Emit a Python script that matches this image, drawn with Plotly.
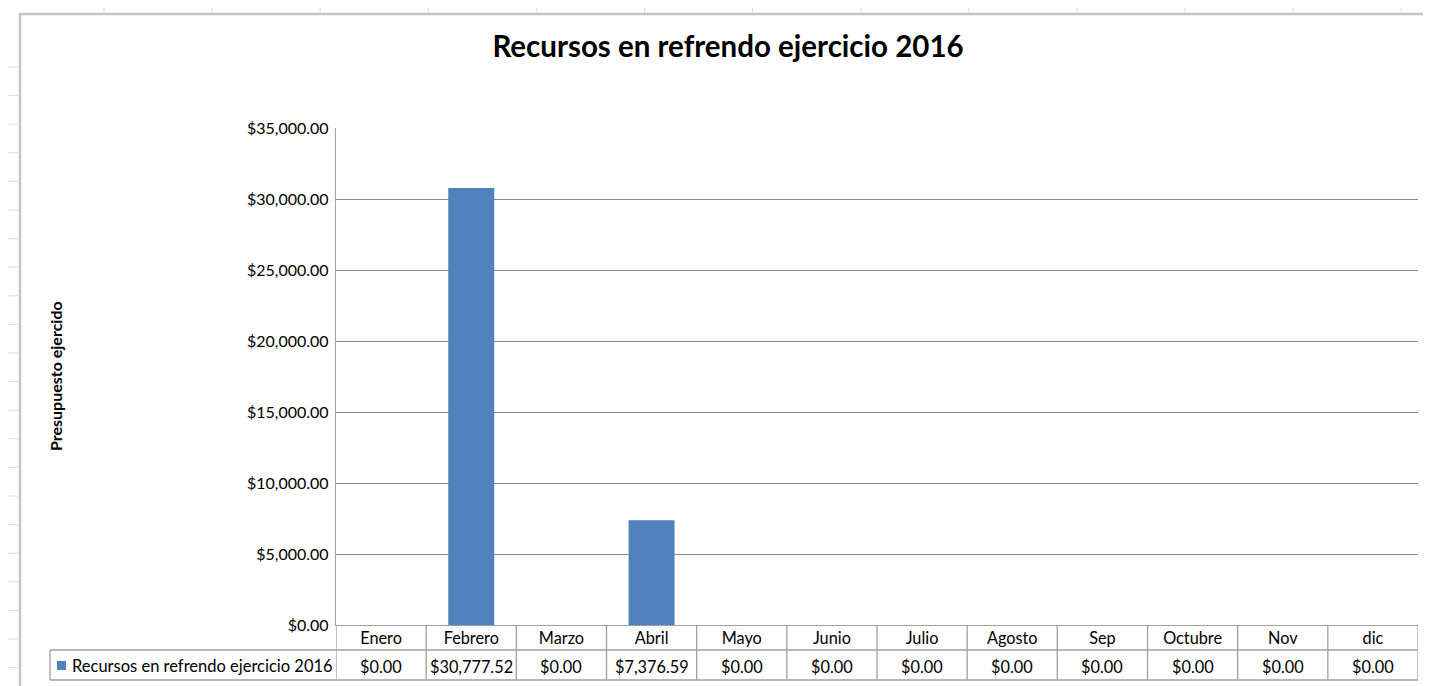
import plotly.graph_objects as go

# ---------------- data ----------------
title_text = "Recursos en refrendo ejercicio 2016"
series_name = "Recursos en refrendo ejercicio 2016"
y_title = "Presupuesto ejercido"
months = ["Enero", "Febrero", "Marzo", "Abril", "Mayo", "Junio",
          "Julio", "Agosto", "Sep", "Octubre", "Nov", "dic"]
values = [0.00, 30777.52, 0.00, 7376.59, 0.00, 0.00,
          0.00, 0.00, 0.00, 0.00, 0.00, 0.00]
y_ticks = [0, 5000, 10000, 15000, 20000, 25000, 30000, 35000]

# ---------------- layout constants ----------------
OFF = 8                      # page body margin
W, H = 1431 - OFF, 686 - OFF
# plot area in reference (window) pixels
PL, PR, PT, PB = 336, 1418, 128, 625
L, R, T, B = PL - OFF, W - (PR - OFF), PT - OFF, H - (PB - OFF)
plot_w = PR - PL
plot_h = PB - PT
FONT = "Lato, 'Open Sans', sans-serif"
GRID = "#8a8a8a"
TABLE = "#a0a0a0"
BAR = "#4F81BD"

def py(pix):  # window pixel y -> paper y
    return (PB - pix) / plot_h

def px(pix):  # window pixel x -> paper x
    return (pix - PL) / plot_w

hdr_bottom = py(650)
row_bottom = py(680)
legend_left = px(50)

fig = go.Figure()
fig.add_trace(go.Bar(x=months, y=values, marker=dict(color=BAR, line=dict(width=0)),
                     width=0.51, name=series_name, showlegend=False,
                     hoverinfo="x+y"))

shapes = []
annotations = []

# vertical table lines at category boundaries
for i in range(len(months) + 1):
    shapes.append(dict(type="line", xref="x", yref="paper",
                       x0=i - 0.5, x1=i - 0.5, y0=0, y1=row_bottom,
                       line=dict(color=TABLE, width=1.3)))
# horizontal table lines
for yy in (hdr_bottom, row_bottom):
    shapes.append(dict(type="line", xref="paper", yref="paper", x0=legend_left, x1=1,
                       y0=yy, y1=yy, line=dict(color=TABLE, width=1.3)))
shapes.append(dict(type="line", xref="paper", yref="paper", x0=legend_left, x1=legend_left,
                   y0=hdr_bottom, y1=row_bottom, line=dict(color=TABLE, width=1.3)))

# legend key square
shapes.append(dict(type="rect", xref="paper", yref="paper",
                   x0=px(57), x1=px(66), y0=py(670), y1=py(661),
                   fillcolor=BAR, line=dict(width=0)))

# chart frame (Excel chart border)
shapes.append(dict(type="rect", xref="paper", yref="paper",
                   x0=px(20), x1=px(1428), y0=py(14), y1=py(705),
                   line=dict(color="#c4c4c4", width=2.5), fillcolor="rgba(0,0,0,0)",
                   layer="below"))
# faint spreadsheet grid outside the frame
for k in range(13):
    xx = 104 + 108.1 * k
    shapes.append(dict(type="line", xref="paper", yref="paper",
                       x0=px(xx), x1=px(xx), y0=py(0), y1=py(12),
                       line=dict(color="#dcdcdc", width=1), layer="below"))
for k in range(22):
    yy = 67 + 28.6 * k
    shapes.append(dict(type="line", xref="paper", yref="paper",
                       x0=px(0), x1=px(18), y0=py(yy), y1=py(yy),
                       line=dict(color="#dcdcdc", width=1), layer="below"))

annotations.append(dict(xref="paper", yref="paper", x=px(70), y=py(666),
                        text=series_name, showarrow=False, xanchor="left", yanchor="middle",
                        font=dict(family=FONT, size=16.5, color="#000000")))

for m, v in zip(months, values):
    annotations.append(dict(xref="x", yref="paper", x=m, y=py(666),
                            text="${:,.2f}".format(v), showarrow=False,
                            xanchor="center", yanchor="middle",
                            font=dict(family=FONT, size=16.3, color="#000000")))

annotations.append(dict(xref="paper", yref="paper", x=px(55), y=py(376),
                        text="<b>" + y_title + "</b>", showarrow=False, textangle=-90,
                        xanchor="center", yanchor="middle",
                        font=dict(family=FONT, size=16, color="#000000")))

fig.update_layout(
    width=W, height=H,
    margin=dict(l=L, r=R, t=T, b=B, autoexpand=False),
    paper_bgcolor="white", plot_bgcolor="white",
    title=dict(text="<b>" + title_text + "</b>", x=(728 - OFF) / W, xref="container",
               xanchor="center", y=1 - (47 - OFF) / H, yref="container", yanchor="middle",
               font=dict(family=FONT, size=29.5, color="#000000")),
    bargap=0.49,
    shapes=shapes, annotations=annotations,
    showlegend=False,
)
fig.update_xaxes(type="category", range=[-0.5, len(months) - 0.5],
                 showgrid=False, showline=True, linecolor=TABLE, linewidth=1.3,
                 ticks="", tickfont=dict(family=FONT, size=16.3, color="#000000"),
                 ticklabelstandoff=-2, fixedrange=True)
fig.update_yaxes(range=[0, 35000], tickvals=y_ticks,
                 ticktext=["${:,.2f}".format(t) for t in y_ticks],
                 showgrid=True, gridcolor=GRID, gridwidth=1.3,
                 showline=True, linecolor=TABLE, linewidth=1.3,
                 ticks="", tickfont=dict(family=FONT, size=16, color="#000000"),
                 ticklabelstandoff=3, zeroline=False, fixedrange=True)

fig.write_html("out.html")
